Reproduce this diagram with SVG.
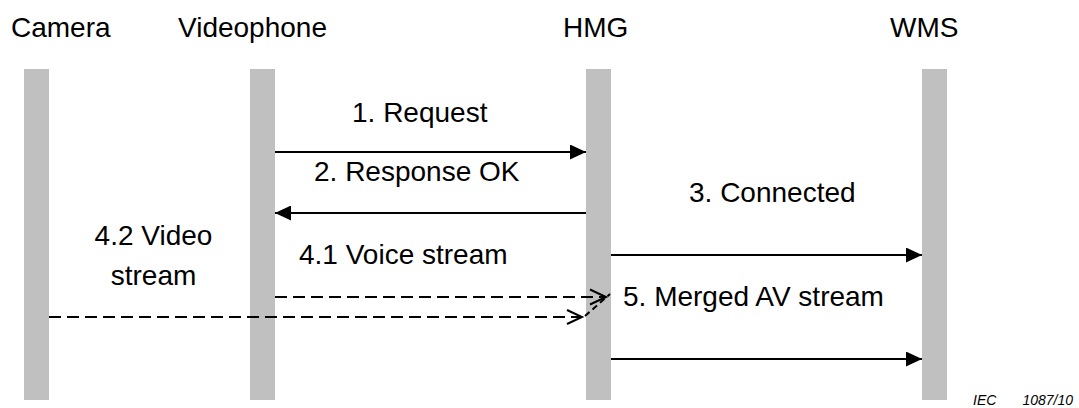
<svg xmlns="http://www.w3.org/2000/svg" width="1079" height="408" viewBox="0 0 1079 408">
  <style>
    .lbl { font-family: "Liberation Sans", Arial, sans-serif; font-size: 28px; fill: #000; }
    .bar { fill: #c0c0c0; }
    .msg { stroke: #000; stroke-width: 2; fill: none; }
    .dash { stroke: #000; stroke-width: 2; fill: none; stroke-dasharray: 12 6; }
    .chev { stroke: #000; stroke-width: 2; fill: none; }
    .foot { font-family: "Liberation Sans", Arial, sans-serif; font-size: 14px; font-style: italic; fill: #000; }
  </style>
  <defs>
    <marker id="filled" viewBox="0 0 16 15" refX="16" refY="7.5" markerWidth="16" markerHeight="15" markerUnits="userSpaceOnUse" orient="auto">
      <path d="M0,0 L16,7.5 L0,15 Z" fill="#000"/>
    </marker>
  </defs>
  <rect width="1079" height="408" fill="#fff"/>

  <g id="camera">
    <rect class="bar" x="24" y="69" width="25" height="331"/>
    <text class="lbl" x="11" y="37">Camera</text>
  </g>
  <g id="videophone">
    <rect class="bar" x="250" y="69" width="25" height="331"/>
    <text class="lbl" x="178" y="37">Videophone</text>
  </g>
  <g id="hmg">
    <rect class="bar" x="586" y="69" width="25" height="331"/>
    <text class="lbl" x="563" y="37">HMG</text>
  </g>
  <g id="wms">
    <rect class="bar" x="922" y="69" width="25" height="331"/>
    <text class="lbl" x="890" y="37">WMS</text>
  </g>

  <g id="connectors">
    <line class="msg" x1="275" y1="152" x2="586" y2="152" marker-end="url(#filled)"/>
    <text class="lbl" x="352" y="122">1. Request</text>

    <line class="msg" x1="586" y1="213" x2="275" y2="213" marker-end="url(#filled)"/>
    <text class="lbl" x="314" y="181">2. Response OK</text>

    <line class="msg" x1="611" y1="255" x2="922" y2="255" marker-end="url(#filled)"/>
    <text class="lbl" x="689" y="202">3. Connected</text>

    <line class="dash" x1="275" y1="297" x2="605" y2="297"/>
    <polyline class="chev" points="590,289.5 606,297 590,304.5"/>
    <text class="lbl" x="299" y="264">4.1 Voice stream</text>

    <line class="dash" x1="49" y1="317" x2="581" y2="317"/>
    <polyline class="chev" points="567,310 582,317 567,324"/>
    <text class="lbl" x="153.5" y="245" text-anchor="middle">4.2 Video</text>
    <text class="lbl" x="153.5" y="285" text-anchor="middle">stream</text>

    <line class="chev" x1="585" y1="316" x2="610" y2="294" stroke-dasharray="6 4"/>

    <line class="msg" x1="611" y1="359" x2="922" y2="359" marker-end="url(#filled)"/>
    <text class="lbl" x="623" y="306">5. Merged AV stream</text>
  </g>

  <g id="footer">
    <text class="foot" x="973" y="405">IEC</text>
    <text class="foot" x="1073" y="405" text-anchor="end">1087/10</text>
  </g>
</svg>
